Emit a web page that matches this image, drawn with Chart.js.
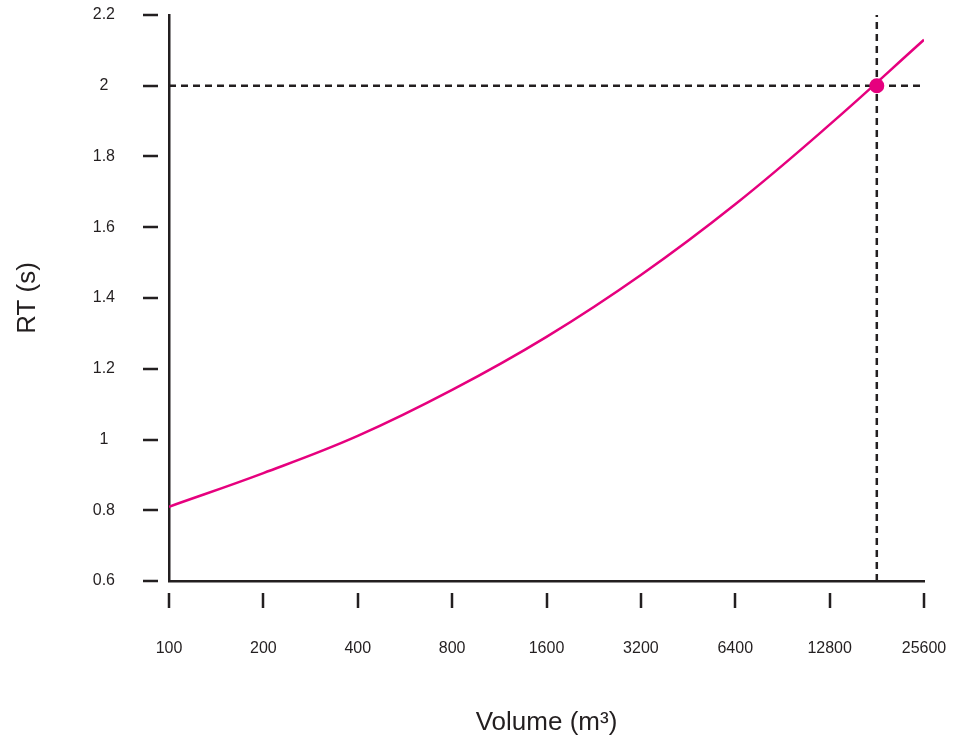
<!DOCTYPE html>
<html>
<head>
<meta charset="utf-8">
<title>RT vs Volume</title>
<script src="https://cdn.jsdelivr.net/npm/chart.js@4.4.0/dist/chart.umd.min.js"></script>
<style>
    html, body { margin: 0; padding: 0; background: #ffffff; }
    #chart-wrap { width: 954px; height: 743px; }
</style>
</head>
<body>
<div id="chart-wrap"><canvas id="rt-chart" width="954" height="743"></canvas></div>
<script>
// Chart data
const volumes = [100, 200, 400, 800, 1600, 3200, 6400, 12800, 25600];
const rtValues = [0.81, 0.905, 1.01, 1.14, 1.29, 1.465, 1.665, 1.89, 2.13];
const volumeTicks = [100, 200, 400, 800, 1600, 3200, 6400, 12800, 25600];
const rtTicks = [0.6, 0.8, 1, 1.2, 1.4, 1.6, 1.8, 2, 2.2];
const markerVolume = [18100];
const markerRt = [2];

const RTChart = (function() {
    'use strict';

    const INK = '#231f20';
    const PINK = '#e6007e';
    const FONT = '"Liberation Sans", Arial, Helvetica, sans-serif';

    /**
     * Short tick marks set apart from the axis lines
     */
    const tickMarks = {
        id: 'tickMarks',
        afterDraw(chart) {
            const { ctx, chartArea, scales } = chart;
            ctx.save();
            ctx.strokeStyle = INK;
            ctx.lineWidth = 2.5;
            ctx.lineCap = 'butt';
            ctx.beginPath();
            scales.x.ticks.forEach(tick => {
                const px = Math.round(scales.x.getPixelForValue(tick.value));
                ctx.moveTo(px, chartArea.bottom + 12);
                ctx.lineTo(px, chartArea.bottom + 27);
            });
            scales.y.ticks.forEach(tick => {
                const py = Math.round(scales.y.getPixelForValue(tick.value));
                ctx.moveTo(chartArea.left - 26, py);
                ctx.lineTo(chartArea.left - 11, py);
            });
            ctx.stroke();
            ctx.restore();
        }
    };

    function buildDatasets() {
        const curve = volumes.map((v, i) => ({ x: v, y: rtValues[i] }));
        const marker = markerVolume.map((v, i) => ({ x: v, y: markerRt[i] }));
        const hLine = [
            { x: volumeTicks[0], y: markerRt[0] },
            { x: volumeTicks[volumeTicks.length - 1], y: markerRt[0] }
        ];
        const vLine = [
            { x: markerVolume[0], y: rtTicks[0] },
            { x: markerVolume[0], y: rtTicks[rtTicks.length - 1] }
        ];
        const dashed = {
            borderColor: INK,
            borderWidth: 2.5,
            borderDash: [7, 5],
            pointRadius: 0,
            fill: false,
            order: 2
        };
        return [
            Object.assign({ data: hLine }, dashed),
            Object.assign({ data: vLine }, dashed),
            {
                data: curve,
                borderColor: PINK,
                borderWidth: 2.5,
                pointRadius: 0,
                tension: 0.4,
                fill: false,
                order: 1
            },
            {
                data: marker,
                showLine: false,
                pointRadius: 7.5,
                pointBackgroundColor: PINK,
                pointBorderColor: PINK,
                pointBorderWidth: 0,
                order: 0
            }
        ];
    }

    function render() {
        Chart.defaults.font.family = FONT;
        Chart.defaults.color = INK;

        const ctx = document.getElementById('rt-chart').getContext('2d');
        return new Chart(ctx, {
            type: 'line',
            data: { datasets: buildDatasets() },
            options: {
                responsive: false,
                animation: false,
                layout: { padding: { top: 15, right: 30, bottom: 0, left: 0 } },
                plugins: {
                    legend: { display: false },
                    tooltip: { enabled: false }
                },
                scales: {
                    x: {
                        type: 'logarithmic',
                        min: volumeTicks[0],
                        max: volumeTicks[volumeTicks.length - 1],
                        afterBuildTicks: scale => {
                            scale.ticks = volumeTicks.map(v => ({ value: v }));
                        },
                        afterFit: scale => {
                            // label padding is big here, keep it out of the side margins
                            scale.height = 162;
                            scale.paddingLeft = 0;
                            scale.paddingRight = 0;
                        },
                        grid: { display: false, drawTicks: false },
                        border: { display: true, color: INK, width: 2.5 },
                        ticks: {
                            padding: 58,
                            color: INK,
                            autoSkip: false,
                            maxRotation: 0,
                            font: { size: 16 },
                            callback: value => String(value)
                        },
                        title: {
                            display: true,
                            text: 'Volume (m³)',
                            color: INK,
                            font: { size: 26 },
                            padding: { top: 0, bottom: 5 }
                        }
                    },
                    y: {
                        type: 'linear',
                        min: rtTicks[0],
                        max: rtTicks[rtTicks.length - 1],
                        afterBuildTicks: scale => {
                            scale.ticks = rtTicks.map(v => ({ value: v }));
                        },
                        afterFit: scale => {
                            scale.width = 169;
                            scale.paddingTop = 0;
                            scale.paddingBottom = 0;
                        },
                        grid: { display: false, drawTicks: false },
                        border: { display: true, color: INK, width: 2.5 },
                        ticks: {
                            padding: 54,
                            crossAlign: 'center',
                            color: INK,
                            font: { size: 16 },
                            callback: value => String(Math.round(value * 10) / 10)
                        },
                        title: {
                            display: true,
                            text: 'RT (s)',
                            color: INK,
                            font: { size: 26 },
                            padding: { top: 12, bottom: 0 }
                        }
                    }
                }
            },
            plugins: [tickMarks]
        });
    }

    return { render };
})();

RTChart.render();
</script>
</body>
</html>
